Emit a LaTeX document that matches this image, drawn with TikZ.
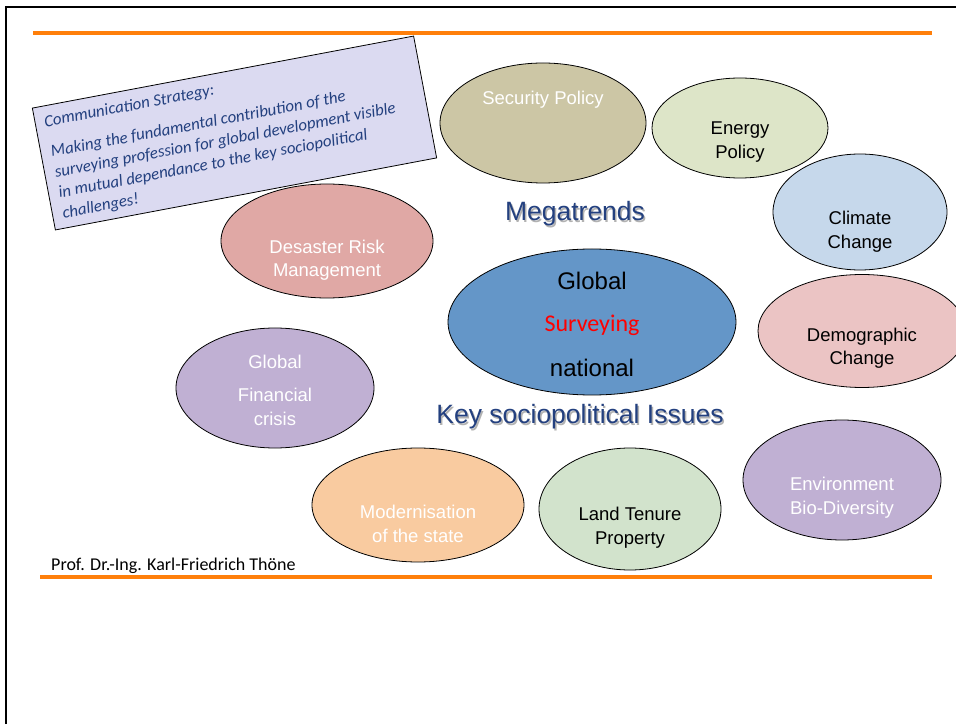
\documentclass[tikz,border=0pt]{standalone}
\usepackage{fontspec}
\setmainfont{Liberation Sans}
\newfontfamily\calib{Carlito}
\usetikzlibrary{shapes.geometric}
\definecolor{orng}{HTML}{FF7F0A}
\definecolor{navy}{HTML}{23407F}
\definecolor{cSec}{HTML}{CCC6A5}
\definecolor{cEne}{HTML}{DDE5C8}
\definecolor{cCli}{HTML}{C6D8EB}
\definecolor{cDem}{HTML}{EBC4C4}
\definecolor{cDes}{HTML}{E0A8A5}
\definecolor{cCen}{HTML}{6496C8}
\definecolor{cFin}{HTML}{C0B0D3}
\definecolor{cMod}{HTML}{F9CBA0}
\definecolor{cLand}{HTML}{D2E3CC}
\definecolor{cBox}{HTML}{DBDAF1}
\tikzset{
  blob/.style={ellipse, draw=black, line width=0.8pt, inner sep=0pt},
  lbl/.style={align=center, font=\fontsize{18.5}{23.5}\selectfont, inner sep=0pt},
  wlbl/.style={lbl, text=white},
  bigtitle/.style={font=\fontsize{26.5}{30}\selectfont, text=navy, inner sep=0pt},
  shadowt/.style={font=\fontsize{26.5}{30}\selectfont, text=black!30, inner sep=0pt},
  rule/.style={orng, line width=3.5pt},
  boxline/.style={rotate=10.7, anchor=base west, inner sep=0pt, text=navy,
      font=\calib\itshape\fontsize{16.8}{20.5}\selectfont},
}
\begin{document}
\begin{tikzpicture}[x=1pt,y=1pt]
\useasboundingbox (0,0) rectangle (956,724);
\fill[white] (0,0) rectangle (956,724);
% frame
\draw[line width=2pt] (6,0) -- (6,717) -- (960,717);
% orange rules
\draw[rule] (33,691) -- (932,691);
\draw[rule] (40,147) -- (932,147);
% ellipses
\node[blob, fill=cSec, minimum width=206pt, minimum height=120pt] (sec) at (543,601) {};
\node[blob, fill=cEne, minimum width=176pt, minimum height=100pt] (ene) at (740,596) {};
\node[blob, fill=cCli, minimum width=174pt, minimum height=116pt] (cli) at (860,512) {};
\node[blob, fill=cDem, minimum width=208pt, minimum height=113pt] (dem) at (862,393) {};
\node[blob, fill=cDes, minimum width=212pt, minimum height=114pt] (des) at (327,483) {};
\node[blob, fill=cCen, minimum width=288pt, minimum height=146pt] (cen) at (592,402) {};
\node[blob, fill=cFin, minimum width=198pt, minimum height=120pt] (fin) at (275,336) {};
\node[blob, fill=cMod, minimum width=212pt, minimum height=114pt] (mod) at (418,219) {};
\node[blob, fill=cLand, minimum width=182pt, minimum height=122pt] (land) at (630,215) {};
\node[blob, fill=cFin, minimum width=198pt, minimum height=120pt] (env) at (842,244) {};
% labels
\node[wlbl] (secT) at (543,624) {Security Policy};
\node[lbl] (eneT) at (740,582) {Energy\\Policy};
\node[lbl] (cliT) at (860,492.5) {Climate\\Change};
\node[lbl] (demT) at (862,376) {Demographic\\Change};
\node[wlbl] (desT) at (327,464) {Desaster Risk\\Management};
\node[font=\fontsize{24}{28}\selectfont, inner sep=0pt] (cenA) at (592,443) {Global};
\node[font=\calib\fontsize{24}{28}\selectfont, text=red, inner sep=0pt] (cenB) at (592,399) {Surveying};
\node[font=\fontsize{24}{28}\selectfont, inner sep=0pt] (cenC) at (592,356) {national};
\node[wlbl] (finA) at (275,362) {Global};
\node[wlbl] (finB) at (275,317) {Financial\\crisis};
\node[wlbl] (modT) at (418,200) {Modernisation\\of the state};
\node[lbl] (landT) at (630,196.5) {Land Tenure\\Property};
\node[wlbl] (envT) at (842,226.5) {Environment\\Bio-Diversity};
% titles
\node[shadowt] (megaS) at (576.5,508.5) {Megatrends};
\node[bigtitle] (mega) at (575,510) {Megatrends};
\node[shadowt] (keyS) at (581.5,305.5) {Key sociopolitical Issues};
\node[bigtitle] (key) at (580,307) {Key sociopolitical Issues};
% footer
\node[anchor=base west, inner sep=0pt, font=\calib\fontsize{18}{21}\selectfont] (foot) at (51,154) {Prof. Dr.-Ing. Karl-Friedrich Thöne};
% strategy box
\begin{scope}[shift={(234.5,591)}, rotate=10.7]
\node[draw=black, line width=0.8pt, fill=cBox, rotate=10.7, minimum width=388pt, minimum height=124pt, inner sep=0pt] (box) at (0,0) {};
\node[boxline] (boxL1) at (-185,41) {Communication Strategy:};
\node[boxline] (boxL2) at (-184,10.3) {Making the fundamental contribution of the};
\node[boxline] (boxL3) at (-184,-10.5) {surveying profession for global development visible};
\node[boxline] (boxL4) at (-184,-31.3) {in mutual dependance to the key sociopolitical};
\node[boxline] (boxL5) at (-184,-52.1) {challenges!};
\end{scope}
\end{tikzpicture}
\end{document}
